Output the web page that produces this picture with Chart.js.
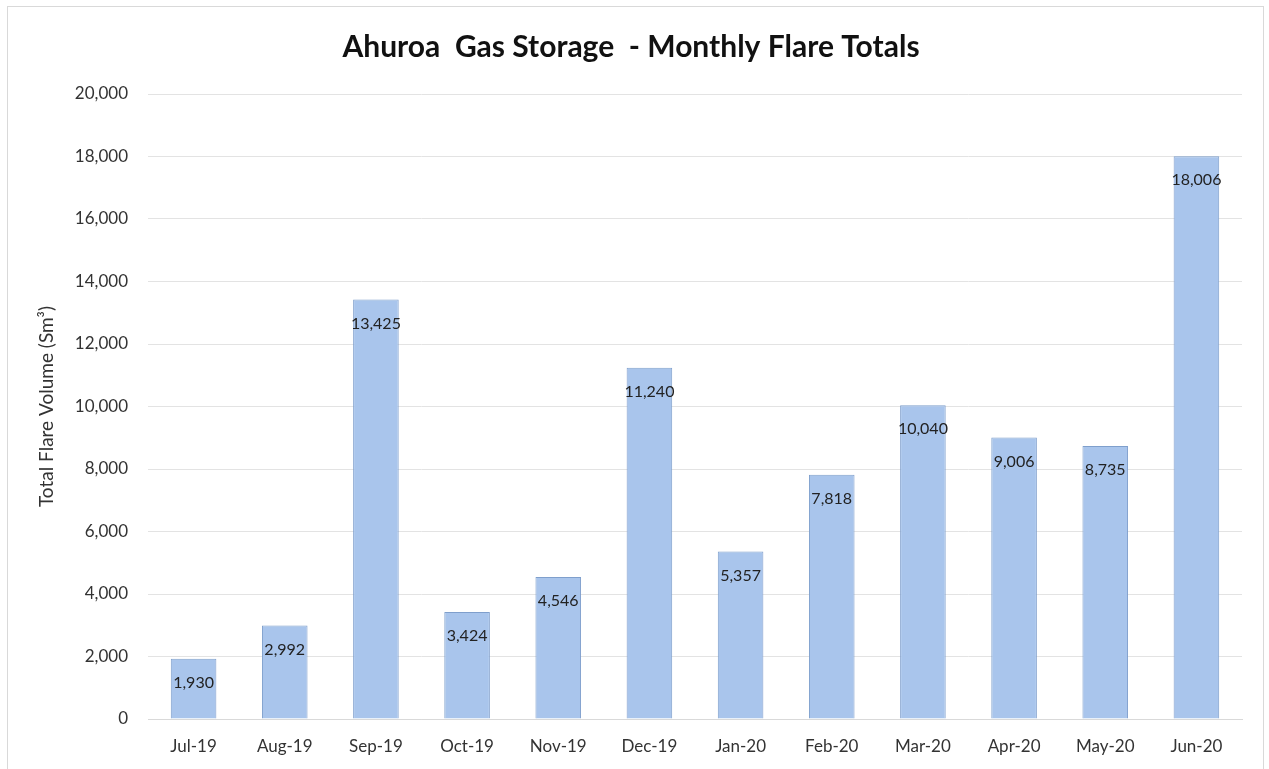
<!DOCTYPE html>
<html lang="en">
<head>
  <meta charset="UTF-8" />
  <title>Ahuroa Gas Storage - Monthly Flare Totals</title>
  <script src="https://cdn.jsdelivr.net/npm/chart.js"></script>
  <style>
    html, body {
      margin: 0;
      padding: 0;
      background: #ffffff;
      overflow: hidden;
    }
    .frame {
      position: absolute;
      left: 7px;
      top: 6px;
      width: 1257px;
      height: 780px;
      border: 1px solid #d9d9d9;
      box-sizing: border-box;
    }
    .chart-box {
      position: absolute;
      left: 0;
      top: 0;
      width: 1269px;
      height: 769px;
    }
  </style>
</head>
<body>
  <div class="frame"></div>
  <div class="chart-box">
    <canvas id="flareChart" width="1269" height="769"></canvas>
  </div>

  <script>
    const months = ['Jul-19', 'Aug-19', 'Sep-19', 'Oct-19', 'Nov-19', 'Dec-19',
                    'Jan-20', 'Feb-20', 'Mar-20', 'Apr-20', 'May-20', 'Jun-20'];
    const flareVolumes = [1930, 2992, 13425, 3424, 4546, 11240, 5357, 7818, 10040, 9006, 8735, 18006];
    const yTicks = [0, 2000, 4000, 6000, 8000, 10000, 12000, 14000, 16000, 18000, 20000];

    const fontFamily = "Lato, 'Open Sans', sans-serif";

    // value labels just inside the top of each bar
    const barLabels = {
      id: 'barLabels',
      afterDatasetsDraw(chart) {
        const ctx = chart.ctx;
        const meta = chart.getDatasetMeta(0);
        ctx.save();
        ctx.font = '16px ' + fontFamily;
        ctx.fillStyle = '#222222';
        ctx.textAlign = 'center';
        ctx.textBaseline = 'middle';
        meta.data.forEach((bar, i) => {
          ctx.fillText(flareVolumes[i].toLocaleString('en-US'), bar.x, bar.y + 24);
        });
        ctx.restore();
      }
    };

    function barFill(context) {
      const chart = context.chart;
      const el = context.element;
      if (!chart.chartArea || !el || el.x === undefined) return '#a9c5ec';
      const half = el.width / 2;
      const g = chart.ctx.createLinearGradient(el.x - half, 0, el.x + half, 0);
      g.addColorStop(0, '#b3ccef');
      g.addColorStop(0.5, '#a5c2ea');
      g.addColorStop(1, '#9dbce8');
      return g;
    }

    const ctx = document.getElementById('flareChart').getContext('2d');
    new Chart(ctx, {
      type: 'bar',
      data: {
        labels: months,
        datasets: [{
          label: 'Total Flare Volume',
          data: flareVolumes,
          backgroundColor: barFill,
          borderColor: '#7f9fcc',
          borderWidth: 1,
          categoryPercentage: 1.0,
          barPercentage: 0.5
        }]
      },
      options: {
        responsive: false,
        animation: false,
        layout: { padding: { left: 20, right: 27, top: 0, bottom: 10 } },
        plugins: {
          legend: { display: false },
          tooltip: { enabled: false },
          title: {
            display: true,
            text: 'Ahuroa  Gas Storage  - Monthly Flare Totals',
            color: '#111111',
            font: { family: fontFamily, size: 30, weight: 'bold' },
            padding: { top: 29, bottom: 29 }
          }
        },
        scales: {
          x: {
            grid: { display: false },
            border: { color: '#d9d9d9' },
            ticks: {
              color: '#333333',
              font: { family: fontFamily, size: 17 },
              padding: 9,
              maxRotation: 0
            },
            afterFit(scale) { scale.height = 40; }
          },
          y: {
            min: 0,
            max: 20000,
            afterBuildTicks(scale) {
              scale.ticks = yTicks.map(v => ({ value: v }));
            },
            grid: { color: '#e3e3e3', drawTicks: false },
            border: { display: false },
            ticks: {
              color: '#333333',
              font: { family: fontFamily, size: 17 },
              padding: 20,
              callback: v => v.toLocaleString('en-US')
            },
            title: {
              display: true,
              text: 'Total Flare Volume (Sm\u00B3)',
              color: '#333333',
              font: { family: fontFamily, size: 19 },
              padding: { top: 15, bottom: 0 }
            },
            afterFit(scale) { scale.width = 128; }
          }
        }
      },
      plugins: [barLabels]
    });
  </script>
</body>
</html>
